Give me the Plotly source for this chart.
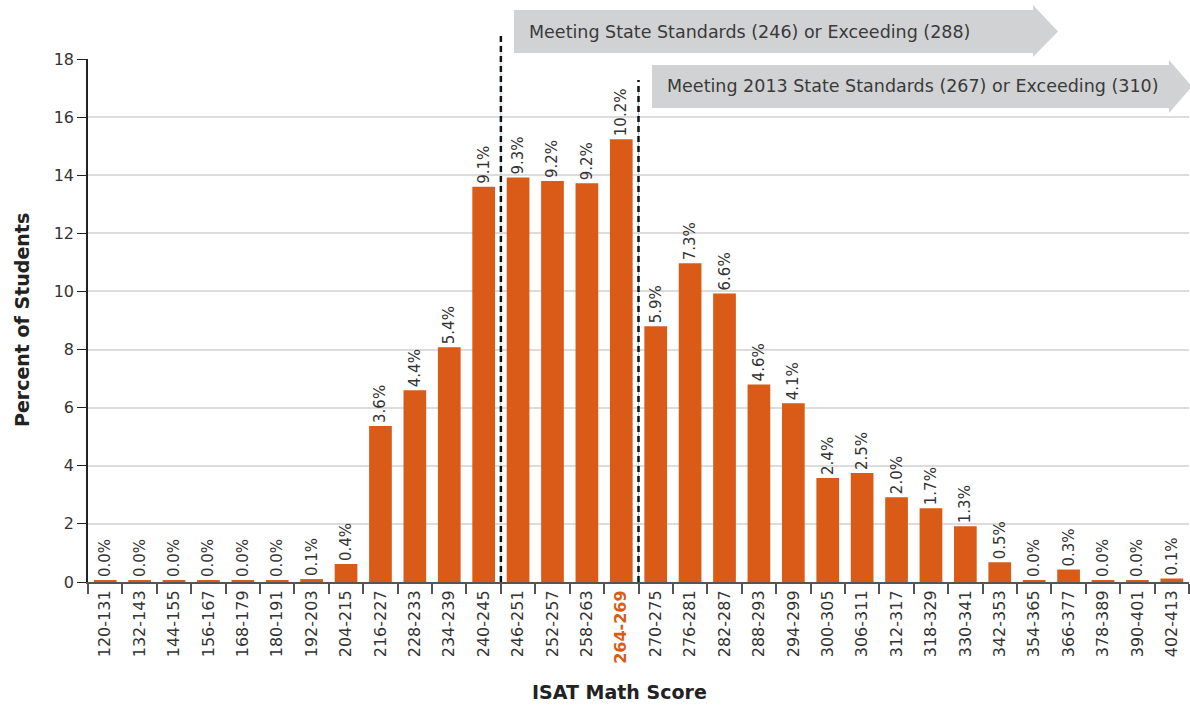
import plotly.graph_objects as go

categories = ["120-131", "132-143", "144-155", "156-167", "168-179", "180-191", "192-203",
              "204-215", "216-227", "228-233", "234-239", "240-245", "246-251", "252-257",
              "258-263", "264-269", "270-275", "276-281", "282-287", "288-293", "294-299",
              "300-305", "306-311", "312-317", "318-329", "330-341", "342-353", "354-365",
              "366-377", "378-389", "390-401", "402-413"]
bar_values = [0.06, 0.06, 0.06, 0.06, 0.06, 0.06, 0.1, 0.62, 5.37, 6.6, 8.08, 13.6, 13.92,
              13.8, 13.72, 15.24, 8.8, 10.97, 9.93, 6.8, 6.15, 3.58, 3.75, 2.92, 2.54, 1.92,
              0.68, 0.06, 0.43, 0.06, 0.06, 0.12]
bar_labels = ["0.0%", "0.0%", "0.0%", "0.0%", "0.0%", "0.0%", "0.1%", "0.4%", "3.6%", "4.4%",
              "5.4%", "9.1%", "9.3%", "9.2%", "9.2%", "10.2%", "5.9%", "7.3%", "6.6%", "4.6%",
              "4.1%", "2.4%", "2.5%", "2.0%", "1.7%", "1.3%", "0.5%", "0.0%", "0.3%", "0.0%",
              "0.0%", "0.1%"]
highlight = "264-269"
threshold_lines = [11.5, 15.5]
arrow_texts = ["Meeting State Standards (246) or Exceeding (288)",
               "Meeting 2013 State Standards (267) or Exceeding (310)"]
y_ticks = [0, 2, 4, 6, 8, 10, 12, 14, 16, 18]
x_title = "ISAT Math Score"
y_title = "Percent of Students"

ORANGE = "#D95B17"
FONT = "DejaVu Sans"
TXT = "#333333"

W, H = 1190, 706
ML, MR, MT, MB = 88, 1, 59, 124
PW, PH = W - ML - MR, H - MT - MB

def px(x):
    return (x - ML) / PW

def py(y):
    return (H - MB - y) / PH

ticktext = [f"<b><span style='color:{ORANGE}'>{c}</span></b>" if c == highlight else c
            for c in categories]

fig = go.Figure()
fig.add_trace(go.Bar(
    x=categories, y=bar_values, text=bar_labels, textposition="outside",
    textangle=-90, constraintext="none", cliponaxis=False,
    textfont=dict(family=FONT, size=15, color=TXT),
    marker=dict(color=ORANGE, line=dict(width=0)),
    hoverinfo="skip",
))

shapes = []
# dashed threshold lines
for xv, ytop in zip(threshold_lines, [35, 80]):
    shapes.append(dict(type="line", xref="x", yref="paper", x0=xv, x1=xv,
                       y0=0, y1=py(ytop + 10), line=dict(color="#A9CFE3", width=1),
                       layer="above"))
    shapes.append(dict(type="line", xref="x", yref="paper", x0=xv, x1=xv,
                       y0=0, y1=py(ytop), line=dict(color="#111111", width=2.5, dash="6px,4px"),
                       layer="above"))

# arrows (pixel geometry)
arrows = [
    dict(x0=514, x1=1033, xt=1058, y0=10, y1=53, yh0=5, yh1=57),
    dict(x0=652, x1=1169, xt=1192, y0=65, y1=108, yh0=60, yh1=113),
]
for a in arrows:
    ym = (a["y0"] + a["y1"]) / 2
    path = (f"M {px(a['x0'])},{py(a['y0'])} L {px(a['x1'])},{py(a['y0'])} "
            f"L {px(a['x1'])},{py(a['yh0'])} L {px(a['xt'])},{py(ym)} "
            f"L {px(a['x1'])},{py(a['yh1'])} L {px(a['x1'])},{py(a['y1'])} "
            f"L {px(a['x0'])},{py(a['y1'])} Z")
    shapes.append(dict(type="path", xref="paper", yref="paper", path=path,
                       fillcolor="#D1D2D4", line=dict(width=0), layer="above"))

annotations = []
for a, t in zip(arrows, arrow_texts):
    annotations.append(dict(xref="paper", yref="paper", x=px(a["x0"] + 13),
                            y=py((a["y0"] + a["y1"]) / 2), text=t, showarrow=False,
                            xanchor="left", yanchor="middle",
                            font=dict(family=FONT, size=17.5, color="#3A3A3A")))
annotations.append(dict(xref="paper", yref="paper", x=px(619), y=py(692), text=f"<b>{x_title}</b>",
                        showarrow=False, xanchor="center", yanchor="middle",
                        font=dict(family=FONT, size=19, color="#222222")))
annotations.append(dict(xref="paper", yref="paper", x=px(22), y=py(320), text=f"<b>{y_title}</b>",
                        showarrow=False, xanchor="center", yanchor="middle", textangle=-90,
                        font=dict(family=FONT, size=19, color="#222222")))

fig.update_layout(
    width=W, height=H,
    margin=dict(l=ML, r=MR, t=MT, b=MB),
    plot_bgcolor="white", paper_bgcolor="white",
    bargap=0.34, showlegend=False,
    shapes=shapes, annotations=annotations,
    font=dict(family=FONT, color=TXT),
    xaxis=dict(
        type="category", tickmode="array", tickvals=categories, ticktext=ticktext,
        tickangle=-90, tickfont=dict(family=FONT, size=16, color=TXT),
        showline=True, linecolor="#555555", linewidth=2,
        ticks="outside", ticklen=10, tickcolor="#555555", tickwidth=1.5,
        tickson="boundaries", showgrid=False,
    ),
    yaxis=dict(
        range=[0, 18], tickvals=y_ticks, showgrid=True, gridcolor="#DCDCDC", gridwidth=1.5,
        showline=True, linecolor="#222222", linewidth=1.5, ticks="outside", ticklen=9,
        tickcolor="#222222", tickfont=dict(family=FONT, size=16, color=TXT),
        zeroline=False,
    ),
)

fig.write_html("out.html", config={"displayModeBar": False},
               post_script="document.body.style.margin='0';")
